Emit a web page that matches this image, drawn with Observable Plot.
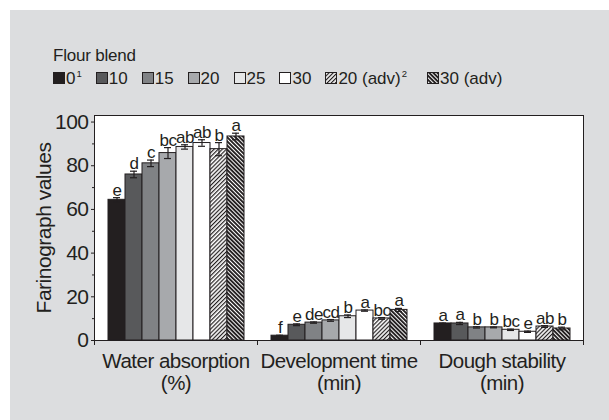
<!DOCTYPE html>
<html>
<head>
<meta charset="utf-8">
<script src="https://cdn.jsdelivr.net/npm/d3@7"></script>
<script src="https://cdn.jsdelivr.net/npm/@observablehq/plot@0.6"></script>
<style>
  body { margin: 0; background: #ffffff; font-family: "Liberation Sans", Arial, sans-serif; color: #231f20; }
  #bg { position: absolute; left: 10px; top: 10px; width: 599px; height: 410px; background: #dcdddf; }
  #legend { position: absolute; left: 53px; top: 44px; font-size: 17px; line-height: 23px; }
  #title { letter-spacing: -0.2px; }
  #items { display: flex; align-items: baseline; }
  .item { margin-right: 14px; white-space: nowrap; }
  .item:last-child { margin-left: 6px; }
  .item svg { vertical-align: baseline; margin-right: 1px; }
  .item sup { font-size: 9.5px; vertical-align: 7px; line-height: 0; margin-left: 1px; }
  #chart { position: absolute; left: 0; top: 100px; }
</style>
</head>
<body>
<svg width="0" height="0" style="position:absolute">
  <defs>
    <pattern id="hatch20" patternUnits="userSpaceOnUse" width="2.9" height="2.9" patternTransform="rotate(45)">
      <rect width="2.9" height="2.9" fill="#ffffff"></rect>
      <rect width="1.2" height="2.9" fill="#231f20"></rect>
    </pattern>
    <pattern id="hatch30" patternUnits="userSpaceOnUse" width="2.9" height="2.9" patternTransform="rotate(-45)">
      <rect width="2.9" height="2.9" fill="#ffffff"></rect>
      <rect width="1.9" height="2.9" fill="#231f20"></rect>
    </pattern>
  </defs>
</svg>
<div id="bg"></div>
<div id="legend">
  <div id="title">Flour blend</div>
  <div id="items"></div>
</div>
<div id="chart"></div>
<script>
// ---- data ----
const blends = ["0", "10", "15", "20", "25", "30", "20 (adv)", "30 (adv)"];
const blendNotes = ["1", "", "", "", "", "", "2", ""];
const properties = ["Water absorption\n(%)", "Development time\n(min)", "Dough stability\n(min)"];

const waterAbsorption = [64.4, 76.0, 81.1, 85.8, 88.6, 90.4, 87.6, 93.4];
const waterErr        = [1.0, 1.5, 1.5, 2.5, 1.0, 1.5, 3.0, 1.5];
const waterLetters    = ["e", "d", "c", "bc", "ab", "ab", "b", "a"];

const devTime    = [2.2, 7.2, 8.2, 9.2, 11.1, 13.7, 10.1, 14.0];
const devErr     = [0.2, 0.4, 0.3, 0.4, 0.6, 0.3, 0.4, 0.7];
const devLetters = ["f", "e", "de", "cd", "b", "a", "bc", "a"];

const stability        = [7.8, 7.8, 6.0, 6.0, 4.9, 4.0, 6.4, 5.5];
const stabilityErr     = [0.2, 0.5, 0.3, 0.2, 0.3, 0.3, 0.4, 0.6];
const stabilityLetters = ["a", "a", "b", "b", "bc", "e", "ab", "b"];

const yTicks = [0, 20, 40, 60, 80, 100];
const yMinorTicks = [10, 30, 50, 70, 90];

const fills = ["#231f20", "#58595b", "#808285", "#a7a9ac", "#e6e7e8", "#ffffff", "url(#hatch20)", "url(#hatch30)"];

// ---- table ----
const seriesValues = [waterAbsorption, devTime, stability];
const seriesErrs = [waterErr, devErr, stabilityErr];
const seriesLetters = [waterLetters, devLetters, stabilityLetters];
const data = properties.flatMap((p, i) => blends.map((b, j) => ({
  property: p, blend: b, value: seriesValues[i][j], err: seriesErrs[i][j], letter: seriesLetters[i][j]
})));

const ink = "#231f20";
const font = '"Liberation Sans", Arial, sans-serif';

const chart = Plot.plot({
  width: 609,
  height: 320,
  marginTop: 15,
  marginBottom: 80,
  marginLeft: 94,
  marginRight: 26,
  style: { background: "transparent", fontFamily: font, color: ink, overflow: "visible", letterSpacing: "-0.5px" },
  fx: { domain: properties, padding: 0, label: null },
  x: { domain: blends, paddingInner: 0, paddingOuter: 0.725, axis: null },
  y: { domain: [0, 103] },
  color: { domain: blends, range: fills },
  marks: [
    Plot.frame({ fill: "white", stroke: ink, facet: "super" }),
    Plot.frame({ anchor: "left", stroke: ink, insetTop: 225, insetBottom: -4 }),
    Plot.frame({ anchor: "right", stroke: ink, insetTop: 225, insetBottom: -4 }),
    Plot.barY(data, { fx: "property", x: "blend", y: "value", fill: "blend", stroke: ink, strokeWidth: 1 }),
    Plot.ruleX(data, { fx: "property", x: "blend", y1: d => d.value - d.err, y2: d => d.value + d.err, stroke: ink, strokeWidth: 1.2 }),
    Plot.tickY(data, { fx: "property", x: "blend", y: d => d.value + d.err, stroke: ink, strokeWidth: 1.2, insetLeft: 5, insetRight: 5 }),
    Plot.tickY(data, { fx: "property", x: "blend", y: d => d.value - d.err, stroke: ink, strokeWidth: 1.2, insetLeft: 5, insetRight: 5 }),
    Plot.text(data, { fx: "property", x: "blend", y: d => d.value + d.err, text: "letter", lineAnchor: "bottom", dy: -2, fontSize: 17, fill: ink }),
    Plot.axisY({ ticks: yTicks, tickSize: 3, tickPadding: 3, fontSize: 21, stroke: ink, label: "Farinograph values", labelAnchor: "center", labelOffset: 58, labelArrow: false }),
    Plot.axisY({ ticks: yMinorTicks, tickSize: 2, tickFormat: () => "", stroke: ink, label: null }),
    Plot.axisFx({ anchor: "bottom", tickSize: 0, tickPadding: 12, fontSize: 20.5, lineHeight: 1.08, label: null })
  ]
});
document.getElementById("chart").appendChild(chart);

// ---- legend ----
const items = d3.select("#items");
blends.forEach((b, i) => {
  const it = items.append("span").attr("class", "item");
  const sw = it.append("svg").attr("width", 12).attr("height", 12);
  sw.append("rect").attr("x", 0.5).attr("y", 0.5).attr("width", 11).attr("height", 11)
    .attr("fill", fills[i]).attr("stroke", ink).attr("stroke-width", 1);
  it.append("span").text(b);
  if (blendNotes[i]) it.append("sup").text(blendNotes[i]);
});
</script>
</body>
</html>
